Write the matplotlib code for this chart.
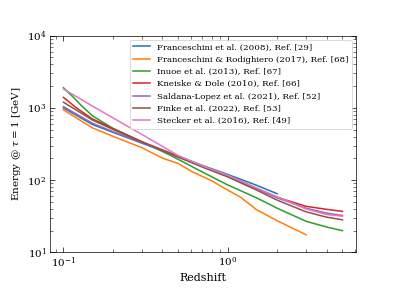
import numpy as np
import matplotlib
matplotlib.use("Agg")
import matplotlib.pyplot as plt

plt.rcParams['font.family'] = 'serif'
plt.rcParams['mathtext.fontset'] = 'dejavuserif'

# energy at tau = 1 [GeV] vs redshift
z_f08 = [0.1, 0.15, 0.2, 0.3, 0.5, 0.7, 1.0, 1.5, 2.0]
e_f08 = [1000, 590, 460, 326, 215, 160, 120, 85, 65]

z_f17 = [0.1, 0.15, 0.2, 0.3, 0.4, 0.5, 0.6, 0.8, 1.0, 1.2, 1.5, 2.0, 3.0]
e_f17 = [940, 530, 405, 282, 202, 170, 133, 98, 73, 58, 39, 27.5, 17.6]

z_i13 = [0.1, 0.115, 0.13, 0.15, 0.2, 0.3, 0.45, 0.7, 1.0, 1.5, 2.0, 3.0, 4.0, 5.0]
e_i13 = [1900, 1400, 1050, 780, 520, 340, 220, 130, 86, 57, 41, 27, 22.5, 20]

z_kd10 = [0.1, 0.12, 0.15, 0.2, 0.3, 0.5, 0.7, 1.0, 1.5, 2.0, 3.0, 4.0, 5.0]
e_kd10 = [1400, 1000, 705, 519, 341, 215, 155, 114, 76, 58, 43.5, 39.5, 37]

z_sl21 = [0.1, 0.15, 0.2, 0.3, 0.5, 0.7, 1.0, 1.5, 2.0, 3.0, 4.0, 5.0]
e_sl21 = [1040, 615, 470, 330, 212, 155, 115, 77, 57, 41, 35, 32.5]

z_f22 = [0.1, 0.15, 0.2, 0.3, 0.5, 0.7, 1.0, 1.5, 2.0, 3.0, 4.0, 5.0]
e_f22 = [1200, 680, 505, 336, 208, 152, 111, 73, 53, 36.5, 30.8, 28.3]

z_s16 = [0.1, 0.15, 0.3, 0.5, 0.7, 1.0, 1.5, 2.0, 3.0, 4.0, 5.0]
e_s16 = [1830, 1060, 430, 219, 158, 117, 78, 59, 40, 33.5, 31.8]

labels = ['Franceschini et al. (2008), Ref. [29]',
          'Franceschini & Rodighiero (2017), Ref. [68]',
          'Inuoe et al. (2013), Ref. [67]',
          'Kneiske & Dole (2010), Ref. [66]',
          'Saldana-Lopez et al. (2021), Ref. [52]',
          'Finke et al. (2022), Ref. [53]',
          'Stecker et al. (2016), Ref. [49]']

zs = [z_f08, z_f17, z_i13, z_kd10, z_sl21, z_f22, z_s16]
es = [e_f08, e_f17, e_i13, e_kd10, e_sl21, e_f22, e_s16]

fig, ax = plt.subplots(figsize=(6.4, 4.8))
fig.subplots_adjust(left=0.125, right=0.9, top=0.88, bottom=0.15)

for z, e, lab in zip(zs, es, labels):
    ax.plot(z, e, label=lab, lw=1.8)

ax.set_xscale('log')
ax.set_yscale('log')
ax.set_ylim(10, 1e4)
ax.set_xlabel('Redshift', fontsize=13)
ax.set_ylabel(r'Energy @ $\tau = 1$ [GeV]', fontsize=12)
ax.tick_params(which='both', direction='in', top=True, right=True, labelsize=12)
ax.tick_params(which='major', length=6)
ax.tick_params(which='minor', length=3.5)
ax.legend(loc='upper right', fontsize=10)

fig.savefig('out.png', dpi=61.875)
